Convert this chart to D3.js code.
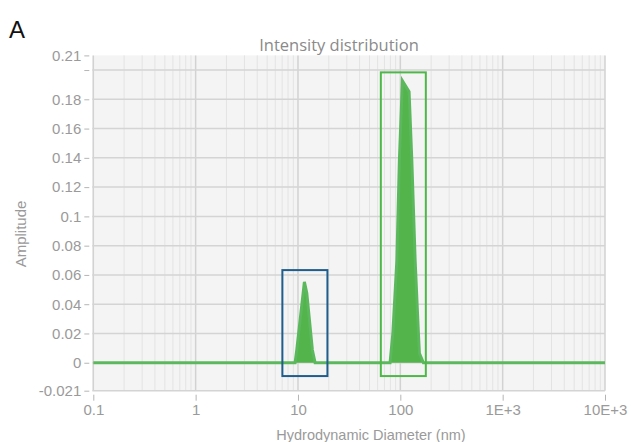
<!DOCTYPE html>
<html><head><meta charset="utf-8">
<script src="https://cdn.jsdelivr.net/npm/d3@7"></script>
<style>
html,body{margin:0;padding:0;background:#fff;}
svg{display:block;}
</style></head>
<body>
<svg id="chart" width="631" height="442"></svg>
<script>
// ---- data ----
const sizes = [0.1, 9.37, 9.73, 11.55, 12.19, 13.83, 14.7, 79.4, 84.5, 92.5, 97.9, 104.8, 121.8, 129.5, 139.6, 150.3, 153.7, 168.2, 10000];
const amps  = [0, 0, 0.0087, 0.0553, 0.0476, 0.0087, 0, 0, 0.020, 0.070, 0.1385, 0.1927, 0.1852, 0.1385, 0.070, 0.020, 0.0064, 0, 0];
const xTickValues = [0.1, 1, 10, 100, 1000, 10000];
const xTickLabels = ["0.1", "1", "10", "100", "1E+3", "10E+3"];
const yTickValues = [-0.021, 0, 0.02, 0.04, 0.06, 0.08, 0.1, 0.12, 0.14, 0.16, 0.18, 0.2, 0.21];
const yTickLabels = ["-0.021", "0", "0.02", "0.04", "0.06", "0.08", "0.1", "0.12", "0.14", "0.16", "0.18", "", "0.21"];
const boxX0 = [7.04, 64.5];
const boxX1 = [19.4, 177.5];
const boxY0 = [-0.0091, -0.0091];
const boxY1 = [0.0633, 0.1984];
const boxColors = ["#1f5d8c", "#4db848"];

// ---- layout ----
const svg = d3.select("#chart");
const L = 93.3, R = 605, T = 55.4, B = 390.7;
const x = d3.scaleLog().domain([0.1, 10000]).range([L, R]);
const y = d3.scaleLinear().domain([-0.0191, 0.21]).range([B, T]).clamp(true);
const tickFont = "'Liberation Sans', Arial, sans-serif";

// background
svg.append("rect").attr("x", L - 1).attr("y", T).attr("width", R - L + 1).attr("height", B - T).attr("fill", "#f4f4f4");

// minor vertical grid
const minor = [];
for (let d = 0.1; d < 10000; d *= 10) for (let m = 2; m <= 9; m++) minor.push(d * m);
svg.append("g").selectAll("line").data(minor).join("line")
  .attr("x1", d => x(d)).attr("x2", d => x(d)).attr("y1", T).attr("y2", B)
  .attr("stroke", "#e3e3e3").attr("stroke-width", 1);
// major vertical grid
svg.append("g").selectAll("line").data(xTickValues).join("line")
  .attr("x1", d => x(d)).attr("x2", d => x(d)).attr("y1", T).attr("y2", B)
  .attr("stroke", "#d2d2d2").attr("stroke-width", 1.5);
// horizontal grid
svg.append("g").selectAll("line").data(yTickValues.filter(v => v !== 0.21)).join("line")
  .attr("x1", L - 1).attr("x2", R).attr("y1", d => y(d)).attr("y2", d => y(d))
  .attr("stroke", "#d4d4d4").attr("stroke-width", 1.5);

// y axis
const yAxis = d3.axisLeft(y).tickValues(yTickValues).tickSize(5).tickPadding(3)
  .tickFormat((d, i) => yTickLabels[i]);
const gy = svg.append("g").attr("transform", `translate(${L - 4},0)`).call(yAxis);
gy.select(".domain").remove();
gy.selectAll(".tick line").attr("stroke", "#b5b5b5");
gy.selectAll(".tick text").attr("fill", "#9a9a9a").style("font-family", tickFont).style("font-size", "15px");

// x axis
const xAxis = d3.axisBottom(x).tickValues(xTickValues).tickSize(6).tickPadding(4)
  .tickFormat((d, i) => xTickLabels[i]);
const gx = svg.append("g").attr("transform", `translate(0,${B + 4})`).call(xAxis);
gx.select(".domain").remove();
gx.selectAll(".tick line").attr("stroke", "#b5b5b5");
gx.selectAll(".tick text").attr("fill", "#9a9a9a").style("font-family", tickFont).style("font-size", "15px");

// data
const pts = sizes.map((s, i) => [s, amps[i]]);
svg.append("path").datum(pts)
  .attr("d", d3.area().x(d => x(d[0])).y0(y(0)).y1(d => y(d[1])))
  .attr("fill", "#52b44a");
svg.append("path").datum(pts)
  .attr("d", d3.line().x(d => x(d[0])).y(d => y(d[1])))
  .attr("fill", "none").attr("stroke", "#5cb85c").attr("stroke-width", 3);

// boxes
svg.append("g").selectAll("rect").data(boxX0).join("rect")
  .attr("x", (d, i) => x(boxX0[i])).attr("y", (d, i) => y(boxY1[i]))
  .attr("width", (d, i) => x(boxX1[i]) - x(boxX0[i]))
  .attr("height", (d, i) => y(boxY0[i]) - y(boxY1[i]))
  .attr("fill", "none").attr("stroke", (d, i) => boxColors[i]).attr("stroke-width", 2);

// texts
svg.append("text").attr("x", 9).attr("y", 38).text("A")
  .style("font-family", "'Liberation Sans', Arial, sans-serif").style("font-size", "24px").attr("fill", "#111");
svg.append("text").attr("x", 339).attr("y", 51).attr("text-anchor", "middle").text("Intensity distribution")
  .style("font-family", "'Open Sans', sans-serif").style("font-size", "16.5px").attr("fill", "#8a8a8a");
svg.append("text").attr("transform", "translate(26,234) rotate(-90)").attr("text-anchor", "middle").text("Amplitude")
  .style("font-family", tickFont).style("font-size", "15px").attr("fill", "#9a9a9a");
svg.append("text").attr("x", 371).attr("y", 440).attr("text-anchor", "middle").text("Hydrodynamic Diameter (nm)")
  .style("font-family", tickFont).style("font-size", "14.5px").attr("fill", "#9a9a9a");
</script>
</body></html>
